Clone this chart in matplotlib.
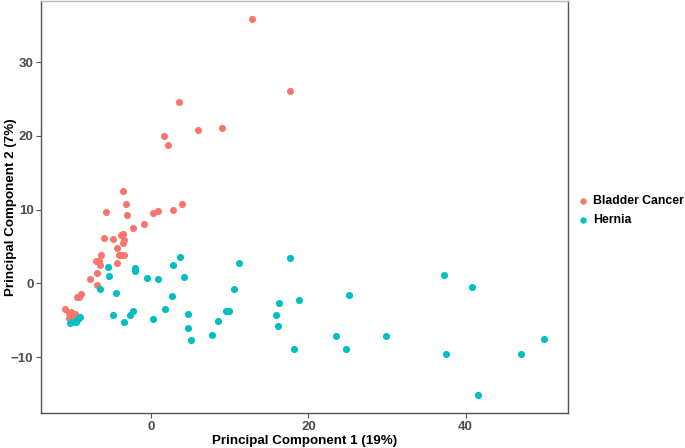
import matplotlib.pyplot as plt
import numpy as np

# PCA scores
bladder_pc1 = [12.8, 17.6, 3.5, 6.0, 9.0, 1.6, 2.1, -3.6, -3.2, 3.9, 2.8, 0.9, 0.2,
               -5.8, -3.05, -0.9, -2.3, -6.0, -3.9, -3.6, -4.8, -3.4, -3.6, -4.3,
               -4.1, -3.8, -3.5, -6.4, -7.0, -6.6, -6.5, -4.4, -6.95, -7.8, -6.9,
               -8.9, -9.4, -9.2, -11.0, -10.5, -10.2, -9.9, -10.4, -9.7, -10.0,
               -9.6, -10.2]
bladder_pc2 = [35.9, 26.1, 24.6, 20.8, 21.1, 20.0, 18.7, 12.5, 10.7, 10.8, 10.0, 9.85,
               9.6, 9.65, 9.2, 8.0, 7.45, 6.2, 6.55, 6.7, 6.0, 5.9, 5.4, 4.8, 3.85,
               3.85, 3.8, 3.9, 3.05, 3.05, 2.45, 2.8, 1.45, 0.55, -0.2, -1.45, -1.8,
               -1.9, -3.5, -4.0, -4.3, -4.6, -4.7, -4.2, -5.0, -4.8, -3.9]

hernia_pc1 = [-5.55, -5.35, -6.55, -4.5, -2.1, -2.1, -0.55, 0.9, 2.75, 3.65, 4.15, 2.6,
              1.8, 0.25, -4.8, -3.4, -2.7, -2.3, 4.65, 4.7, 5.1, 7.8, 8.55, 9.5, 9.95,
              10.55, 11.15, -9.0, -10.1, -9.7, -9.3, -9.5, -10.3, 17.6, 16.2, 18.8,
              15.85, 16.1, 18.2, 25.2, 23.5, 24.8, 29.9, 37.25, 40.8, 37.5, 47.0,
              50.0, 41.6]
hernia_pc2 = [2.15, 0.95, -0.75, -1.25, 2.1, 1.6, 0.7, 0.55, 2.5, 3.5, 0.8, -1.75,
              -3.5, -4.8, -4.35, -5.25, -4.25, -3.8, -4.15, -6.05, -7.7, -6.95, -5.05,
              -3.75, -3.75, -0.8, 2.8, -4.55, -5.3, -5.1, -4.9, -5.2, -5.4, 3.45,
              -2.7, -2.2, -4.35, -5.85, -8.9, -1.6, -7.1, -8.9, -7.2, 1.1, -0.45,
              -9.6, -9.6, -7.55, -15.2]

plt.rcParams['font.family'] = ['Liberation Sans', 'DejaVu Sans']

fig = plt.figure(figsize=(6.85, 4.48), dpi=100)
ax = fig.add_axes([0.06, 0.078, 0.769, 0.92])

ax.scatter(bladder_pc1, bladder_pc2, s=26, color='#F8766D', linewidths=0,
           label='Bladder Cancer', zorder=3)
ax.scatter(hernia_pc1, hernia_pc2, s=26, color='#00BFC4', linewidths=0,
           label='Hernia', zorder=3)

ax.set_xlim(-14, 53)
ax.set_ylim(-17.6, 38.3)
ax.set_xticks([0, 20, 40])
ax.set_yticks([-10, 0, 10, 20, 30])

for sp in ax.spines.values():
    sp.set_color('#555555')
    sp.set_linewidth(1.0)
ax.spines['top'].set_color('#bbbbbb')

ax.tick_params(length=3.5, width=0.8, color='#555555', labelcolor='#4d4d4d',
               labelsize=9.5, pad=2)
for lb in ax.get_xticklabels() + ax.get_yticklabels():
    lb.set_fontweight('bold')

ax.set_xlabel('Principal Component 1 (19%)', fontsize=9.6, fontweight='bold', labelpad=2)
ax.set_ylabel('Principal Component 2 (7%)', fontsize=9.6, fontweight='bold')
ax.yaxis.set_label_coords(-0.045, 0.5)

leg = fig.legend(handles=ax.collections, labels=['Bladder Cancer', 'Hernia'],
                 loc='center left', bbox_to_anchor=(0.8438, 0.530), frameon=False,
                 handlelength=0.8, handletextpad=0.4, borderpad=0, borderaxespad=0,
                 labelspacing=0.56, markerscale=0.9,
                 prop={'weight': 'bold', 'size': 8.8})

fig.savefig('out.png', dpi=100)
